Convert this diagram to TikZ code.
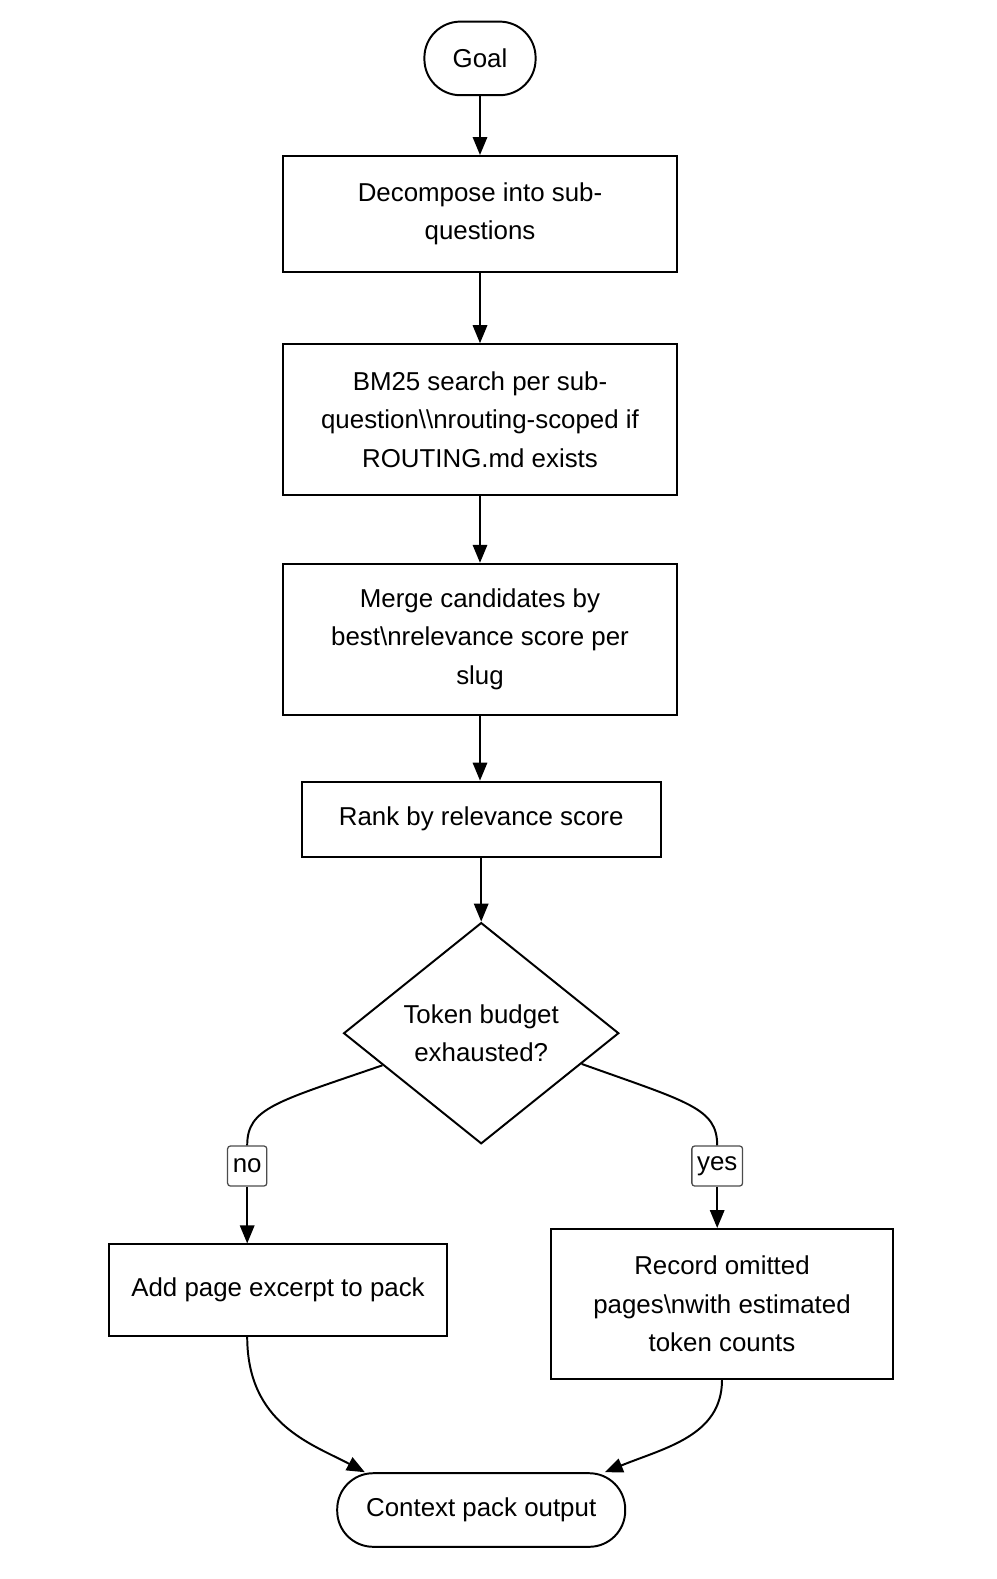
\documentclass[tikz,border=0pt]{standalone}
\usepackage{fontspec}
\setmainfont{Liberation Sans}
\usetikzlibrary{positioning,shapes.geometric,arrows.meta}

\begin{document}
\begin{tikzpicture}[font=\fontsize{18.4}{27.3}\selectfont,line width=1.4pt]
\tikzstyle{stepbox}=[draw,rectangle,align=center,minimum width=9.87cm,minimum height=3.77cm]
\tikzstyle{term}=[draw,rounded corners=0.9cm,minimum height=1.84cm,align=center]
\tikzstyle{decide}=[draw,diamond,aspect=1.24,minimum width=6.88cm,minimum height=5.53cm,inner sep=0pt,align=center]
\tikzstyle{tag}=[draw=black!70,fill=white,rounded corners=2pt,inner xsep=0.13cm,minimum height=1cm,line width=0.9pt]
\tikzstyle{arrow}=[-{Triangle[length=0.45cm,width=0.36cm]}]
\fill[white] (0,0) rectangle (24.9,-39.475);
\node[term,minimum width=2.78cm] (goal) at (12,-1.46) {Goal};
\node[stepbox,minimum height=2.9cm] (decomp) at (12,-5.35) {Decompose into sub-\\questions};
\node[stepbox] (search) at (12,-10.49) {BM25 search per sub-\\question\textbackslash\textbackslash nrouting-scoped if\\ROUTING.md exists};
\node[stepbox] (merge) at (12,-15.98) {Merge candidates by\\best\textbackslash nrelevance score per\\slug};
\node[stepbox,minimum width=8.98cm,minimum height=1.88cm] (rank) at (12.03,-20.48) {Rank by relevance score};
\node[decide] (budget) at (12.03,-25.83) {Token budget\\exhausted?};
\node[stepbox,minimum width=8.45cm,minimum height=2.28cm] (add) at (6.95,-32.25) {Add page excerpt to pack};
\node[stepbox,minimum width=8.53cm,minimum height=3.75cm] (record) at (18.05,-32.6) {Record omitted\\pages\textbackslash nwith estimated\\token counts};
\node[term,minimum width=7.2cm] (ctx) at (12.03,-37.75) {Context pack output};
\node[tag] (no) at (6.18,-29.15) {no};
\node[tag] (yes) at (17.93,-29.15) {yes};
% main column
\draw[arrow] (goal) -- (decomp);
\draw[arrow] (decomp) -- (search);
\draw[arrow] (search) -- (merge);
\draw[arrow] (merge) -- (merge |- rank.north);
\draw[arrow] (rank) -- (budget);
% branches
\draw (budget.198) .. controls (6.9,-27.55) and (6.18,-27.7) .. (no.north);
\draw[arrow] (no) -- (no |- add.north);
\draw (budget.-17) .. controls (17.2,-27.55) and (17.93,-27.7) .. (yes.north);
\draw[arrow] (yes) -- (yes |- record.north);
% join
\draw[arrow] (add.south -| no) .. controls (6.18,-35.6) and (7.8,-36.1) .. (ctx.162);
\draw[arrow] (record.south) .. controls (18.05,-35.9) and (16.6,-36.2) .. (ctx.17);
\end{tikzpicture}
\end{document}
